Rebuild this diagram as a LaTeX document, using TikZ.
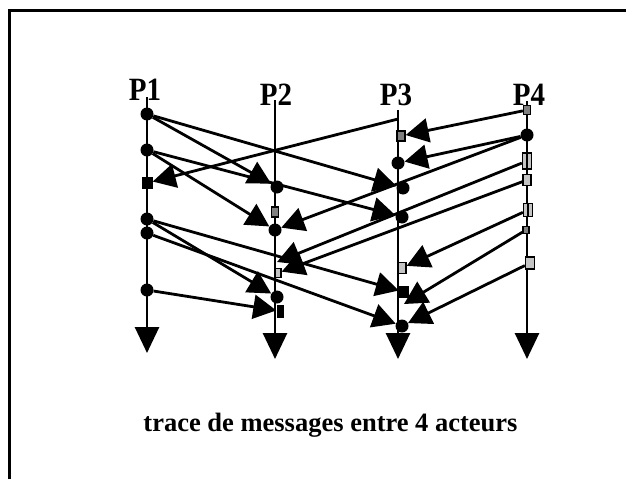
\documentclass[tikz,border=0pt]{standalone}
\usepackage{fontspec}
\setmainfont{Liberation Serif}
\usetikzlibrary{arrows.meta}
\definecolor{darkev}{HTML}{808080}
\definecolor{lightev}{HTML}{C4C4C4}
\begin{document}
\begin{tikzpicture}[x=1pt,y=-1pt,
  lifeline/.style={line width=2.8pt,-{Triangle[length=26pt,width=24pt]}},
  msg/.style={line width=2.8pt,-{Triangle[length=23pt,width=24pt]}},
  evdot/.style={circle,fill=black,minimum size=13pt,inner sep=0pt},
  evblack/.style={rectangle,fill=black,minimum width=10pt,minimum height=11pt,inner sep=0pt},
  evdark/.style={rectangle,fill=darkev,draw=black,line width=1.3pt,minimum width=7pt,minimum height=10pt,inner sep=0pt},
  evlight/.style={rectangle,fill=lightev,draw=black,line width=1.3pt,minimum width=8pt,minimum height=11pt,inner sep=0pt},
  proc/.style={font=\fontsize{29}{30}\selectfont\bfseries,inner sep=0pt,anchor=base},
  caption/.style={font=\fontsize{26.5}{30}\selectfont\bfseries,inner sep=0pt,anchor=base},
  frame/.style={line width=3pt}
]
\useasboundingbox (0,0) rectangle (626,479);
\fill[white] (0,0) rectangle (626,479);

% open frame: top and left edges
\draw[frame] (9.7,479) -- (9.7,10.5) -- (626,10.5);

% process names
\node[proc] (n1) at (145,100) {\scalebox{1}[1.12]{P1}};
\node[proc] (n2) at (276,105) {\scalebox{1}[1.12]{P2}};
\node[proc] (n3) at (396,105) {\scalebox{1}[1.12]{P3}};
\node[proc] (n4) at (529,105) {\scalebox{1}[1.12]{P4}};

% life lines
\coordinate (t1) at (147,97);   \coordinate (e1) at (147,353);
\coordinate (t2) at (275,100);  \coordinate (e2) at (275,359);
\coordinate (t3) at (398,110);  \coordinate (e3) at (398,359);
\coordinate (t4) at (527,101);  \coordinate (e4) at (527,359);
\draw[lifeline] (t1) -- (e1);
\draw[lifeline] (t2) -- (e2);
\draw[lifeline] (t3) -- (e3);
\draw[lifeline] (t4) -- (e4);

% events on P1
\node[evdot]   (a1) at (147,114) {};
\node[evdot]   (a2) at (147,150) {};
\node[evblack,minimum width=11pt,minimum height=12pt] (a3) at (147,183) {};
\node[evdot]   (a4) at (147,219) {};
\node[evdot]   (a5) at (147,233) {};
\node[evdot]   (a6) at (147,290) {};

% events on P2
\node[evdot]   (b1) at (277,187) {};
\node[evdark]  (b2) at (275,212) {};
\node[evdot]   (b3) at (275,230) {};
\coordinate    (b4) at (277,262);
\node[evlight,minimum width=6pt,minimum height=9pt] (b5) at (278,273) {};
\node[evdot]   (b6) at (277,297) {};
\node[evblack,minimum width=7pt,minimum height=13pt] (b7) at (280,311) {};

% events on P3
\coordinate    (c0) at (398,119);
\node[evdark,minimum width=8pt]  (c1) at (401,136) {};
\node[evdot]   (c2) at (398,163) {};
\node[evdot]   (c3) at (403,188) {};
\node[evdot]   (c4) at (402,217) {};
\node[evlight] (c5) at (402,268) {};
\node[evblack,minimum height=12pt] (c6) at (404,292) {};
\coordinate    (c7) at (404,304);
\node[evdot]   (c8) at (402,326) {};

% events on P4
\node[evdark,minimum width=7pt,minimum height=9pt] (d1) at (527,110) {};
\node[evdot]   (d2) at (527,135) {};
\node[evlight,minimum width=9pt,minimum height=16pt] (d3) at (527,161) {};
\node[evlight] (d4) at (527,180) {};
\node[evlight,minimum width=9pt,minimum height=13pt] (d5) at (528,210) {};
\node[evdark,minimum width=6pt,minimum height=7pt] (d6) at (526,230) {};
\node[evlight,minimum width=9pt,minimum height=12pt] (d7) at (530,263) {};
\draw[line width=2pt] (d3.north) -- (d3.south);
\draw[line width=2pt] (d5.north) -- (d5.south);

% messages
\draw[msg] (a1) -- (b1);
\draw[msg] (a1) -- (c3);
\draw[msg] (a2) -- (b3);
\draw[msg] (a2) -- (c4);
\draw[msg] (c0) -- (a3);
\draw[msg] (d1) -- (c1);
\draw[msg] (d2) -- (c2);
\draw[msg] (d2) -- (b3);
\draw[msg] (d3) -- (b4);
\draw[msg] (d4) -- (b5);
\draw[msg] (d5) -- (c5);
\draw[msg] (d6) -- (c7);
\draw[msg] (d7) -- (c8);
\draw[msg] (a4) -- (b6);
\draw[msg] (a4) -- (c6);
\draw[msg] (a5) -- (c8);
\draw[msg] (a6) -- (b7);

% caption
\node[caption] (cap) at (330.5,431) {trace de messages entre 4 acteurs};
\end{tikzpicture}
\end{document}
